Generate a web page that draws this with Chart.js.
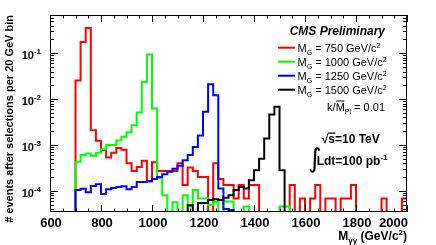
<!DOCTYPE html>
<html><head><meta charset="utf-8">
<script src="https://cdn.jsdelivr.net/npm/chart.js@4"></script>
<style>html,body{margin:0;padding:0;background:#fff;}canvas{display:block;}</style>
</head><body>
<canvas id="c" width="436" height="245"></canvas>
<script>
// ---- data ----
const massBinLow = [600,620,640,660,680,700,720,740,760,780,800,820,840,860,880,900,920,940,960,980,
  1000,1020,1040,1060,1080,1100,1120,1140,1160,1180,1200,1220,1240,1260,1280,1300,1320,1340,1360,1380,
  1400,1420,1440,1460,1480,1500,1520,1540,1560,1580,1600,1620,1640,1660,1680,1700,1720,1740,1760,1780,
  1800,1820,1840,1860,1880,1900,1920,1940,1960,1980];
const binWidth = 20;
const seriesMasses = ['750','1000','1250','1500'];
const seriesColors = ['#ff0000','#00ff00','#0000ff','#000000'];
const red750 = [0,0,0,0,0, 0.0254,0.176,0.356,0.0021,0.00123,
  0.00077,0.00053,0.00067,0.00086,0.00078, 0.0004,0.00027,0.00033,0.00045,0.00016,
  0.00042,0.00027,0.00027,0.00027,0.00027, 0.0004,0.000133,0.00032,0.00027,0.0002,
  0.0002,0,0.0004,0.00018,0.000133, 0.000133,0.000068,0.000133,0.000068,0.000133,
  0.000133,0,0,0,0, 0,0,0.000133,0,0.000068,
  0,0.000068,0.000133,0,0.000068, 0.000068,0,0.000068,0.000068,0.000133,
  0,0,0,0,0, 0.000068,0,0,0,0.000068];
const green1000 = [0,0,0,0,0, 0.00043,0.0006,0.00065,0.00058,0.00067,
  0.0008,0.001,0.001,0.00125,0.0015, 0.0019,0.0027,0.0051,0.0237,0.094,
  0.0062,0.00019,0.00008,0,0.000056, 0,0.00008,0.000045,0.000104,0.000068,
  0.000068,0.000049,0.000057,0,0.000058, 0.000058,0,0,0.000045,0,
  0,0,0,0,0, 0.000045,0.000045,0,0,0,
  0,0,0,0,0, 0,0,0,0,0,
  0,0,0,0,0, 0,0,0,0,0];
const blue1250 = [0,0,0,0,0, 0.000104,0.00011,0.000093,0.000126,0.000138,
  0.000085,0.000108,0.000115,0.00012,0.000125, 0.000108,0.00012,0.000155,0.000155,0.00016,
  0.00018,0.0002,0.00023,0.00026,0.0003, 0.00035,0.00046,0.0006,0.0009,0.0016,
  0.0053,0.021,0.0122,0.000112,0.00004, 0.000038,0,0,0,0,
  0,0,0,0,0, 0,0,0,0,0,
  0,0,0,0,0, 0,0,0,0,0,
  0,0,0,0,0, 0,0,0,0,0];
const black1500 = [0,0,0,0,0, 0,0,0,0,0,
  0,0,0,0,0, 0,0,0,0,0,
  0,0,0,0,0, 0,0,0.000048,0,0.000054,
  0.000054,0.000063,0.000065,0.000063,0.00007, 0.00008,0.000104,0.00012,0.000112,0.00017,
  0.00028,0.0005,0.00138,0.0046,0.0068, 0.00028,0,0,0,0,
  0,0,0,0,0, 0,0,0,0,0,
  0,0,0,0,0, 0,0,0,0,0];
const xTickValues = [600,800,1000,1200,1400,1600,1800,2000];
const xTickLabels = ['600','800','1000','1200','1400','1600','1800','2000'];
const yTickValues = [1e-4,1e-3,1e-2,1e-1];
const yTickExponents = ['-4','-3','-2','-1'];
const X_MIN = 600, X_MAX = 2000, Y_MIN = 3.43e-5, Y_MAX = 0.685;

const FF = '"Liberation Sans", Arial, sans-serif';

function toPoints(vals){
  const pts = vals.map((v,i)=>({x: massBinLow[i], y: v>0 ? v : Y_MIN}));
  pts.push({x: massBinLow[vals.length-1] + binWidth, y: pts[pts.length-1].y});
  return pts;
}

function drawRich(ctx, parts, x, y, align){
  let w = 0;
  parts.forEach(p=>{ctx.font=p.font; p.w=ctx.measureText(p.t).width; w+=p.w;});
  let cx = align==='right' ? x-w : (align==='center' ? x-w/2 : x);
  ctx.textAlign='left'; ctx.textBaseline='alphabetic';
  parts.forEach(p=>{
    ctx.font=p.font;
    ctx.fillText(p.t, cx, y+(p.dy||0));
    if (p.over) ctx.fillRect(cx+0.5, y-p.over, p.w-1, 1);
    cx += p.w;
  });
  return w;
}

const decor = {
  id:'decor',
  afterDatasetsDraw(chart){
    const {ctx, chartArea:a, scales:{x,y}} = chart;
    ctx.save();
    ctx.strokeStyle='#000'; ctx.lineWidth=1;
    ctx.strokeRect(a.left+0.5, a.top+0.5, a.right-a.left-1, a.bottom-a.top-1);
    ctx.beginPath();
    // x ticks (inward, bottom and top)
    for (let v=X_MIN; v<=X_MAX; v+=50){
      const px = Math.round(x.getPixelForValue(v))+0.5;
      const len = (v%200===0) ? 7 : 3.5;
      ctx.moveTo(px, a.bottom); ctx.lineTo(px, a.bottom-len);
      ctx.moveTo(px, a.top); ctx.lineTo(px, a.top+len);
    }
    // y ticks log (inward, left and right)
    for (let d=-5; d<=0; d++){
      for (let k=1; k<=9; k++){
        const v = k*Math.pow(10,d);
        if (v<Y_MIN || v>Y_MAX) continue;
        const py = Math.round(y.getPixelForValue(v))+0.5;
        const len = (k===1) ? 8 : 4;
        ctx.moveTo(a.left, py); ctx.lineTo(a.left+len, py);
        ctx.moveTo(a.right, py); ctx.lineTo(a.right-len, py);
      }
    }
    ctx.stroke();

    ctx.fillStyle='#000';
    // x tick labels
    xTickValues.forEach((v,i)=>{
      const px = x.getPixelForValue(v);
      const last = i===xTickValues.length-1;
      drawRich(ctx,[{t:xTickLabels[i], font:'bold 13px '+FF}], last ? px+1 : px+1, 227, last ? 'right':'center');
    });
    // y tick labels
    yTickValues.forEach((v,i)=>{
      const py = y.getPixelForValue(v);
      drawRich(ctx,[{t:'10', font:'bold 11px '+FF},{t:yTickExponents[i], font:'bold 8px '+FF, dy:-5}], 41, py+6, 'right');
    });
    // y title
    ctx.save();
    ctx.translate(10, a.top); ctx.rotate(-Math.PI/2);
    ctx.font='bold 11px '+FF; ctx.textAlign='right'; ctx.textBaseline='middle';
    ctx.fillText('# events after selections per 20 GeV bin', 0, 0);
    ctx.restore();
    // x title
    drawRich(ctx,[{t:'M',font:'bold 12px '+FF},{t:'γγ',font:'bold 8px '+FF,dy:3},
      {t:' (GeV/c',font:'bold 12px '+FF},{t:'2',font:'bold 8px '+FF,dy:-5},{t:')',font:'bold 12px '+FF}], 407, 240, 'right');

    // legend
    drawRich(ctx,[{t:'CMS Preliminary', font:'italic bold 12px '+FF}], 385, 35, 'right');
    seriesMasses.forEach((m,i)=>{
      const ry = 47.7 + i*14;
      ctx.strokeStyle=seriesColors[i]; ctx.lineWidth=2;
      ctx.beginPath(); ctx.moveTo(278, ry); ctx.lineTo(295, ry); ctx.stroke();
      drawRich(ctx,[{t:'M',font:'11px '+FF},{t:'G',font:'7px '+FF,dy:3},
        {t:' = '+m+' GeV/c',font:'11px '+FF},{t:'2',font:'7px '+FF,dy:-4}], 297.5, ry+4, 'left');
    });
    drawRich(ctx,[{t:'k/',font:'11px '+FF},{t:'M',font:'11px '+FF,over:10},{t:'Pl',font:'7px '+FF,dy:3},
      {t:' = 0.01',font:'11px '+FF}], 385, 110.5, 'right');
    // sqrt(s)
    const w0 = drawRich(ctx,[{t:'√',font:'bold 12px '+FF}], 321.7, 142.5, 'left');
    ctx.font='bold 12px '+FF;
    const sw = ctx.measureText('s').width;
    ctx.fillRect(321.7+w0-0.5, 132.5, sw+1, 1.2);
    drawRich(ctx,[{t:'s=10 TeV',font:'bold 12px '+FF}], 321.7+w0, 142.5, 'left');
    // integral L dt
    ctx.font='26px "DejaVu Sans"'; ctx.textAlign='left'; ctx.textBaseline='alphabetic';
    ctx.fillText('∫', 308, 167);
    drawRich(ctx,[{t:'Ldt=100 pb',font:'bold 12px '+FF},{t:'-1',font:'bold 8px '+FF,dy:-5}], 316.7, 165, 'left');
    ctx.restore();
  }
};

const seriesValues = [red750, green1000, blue1250, black1500];
new Chart(document.getElementById('c'), {
  type:'line',
  data:{
    datasets: seriesValues.map((vals,i)=>({
      label:'M_G = '+seriesMasses[i]+' GeV/c²',
      data: toPoints(vals),
      borderColor: seriesColors[i],
      borderWidth: 2,
      pointRadius: 0,
      fill: false,
      stepped: true,
      tension: 0,
      order: 4-i
    }))
  },
  options:{
    responsive:false, animation:false, devicePixelRatio:1, events:[],
    layout:{padding:{top:15, right:29, left:0, bottom:0}},
    plugins:{legend:{display:false}, tooltip:{enabled:false}},
    scales:{
      x:{type:'linear', min:X_MIN, max:X_MAX, grid:{display:false}, border:{display:false},
         ticks:{display:false}, afterFit(s){ s.height = 33; }},
      y:{type:'logarithmic', min:Y_MIN, max:Y_MAX, grid:{display:false}, border:{display:false},
         ticks:{display:false}, afterFit(s){ s.width = 50; }}
    }
  },
  plugins:[decor]
});
</script>
</body></html>
